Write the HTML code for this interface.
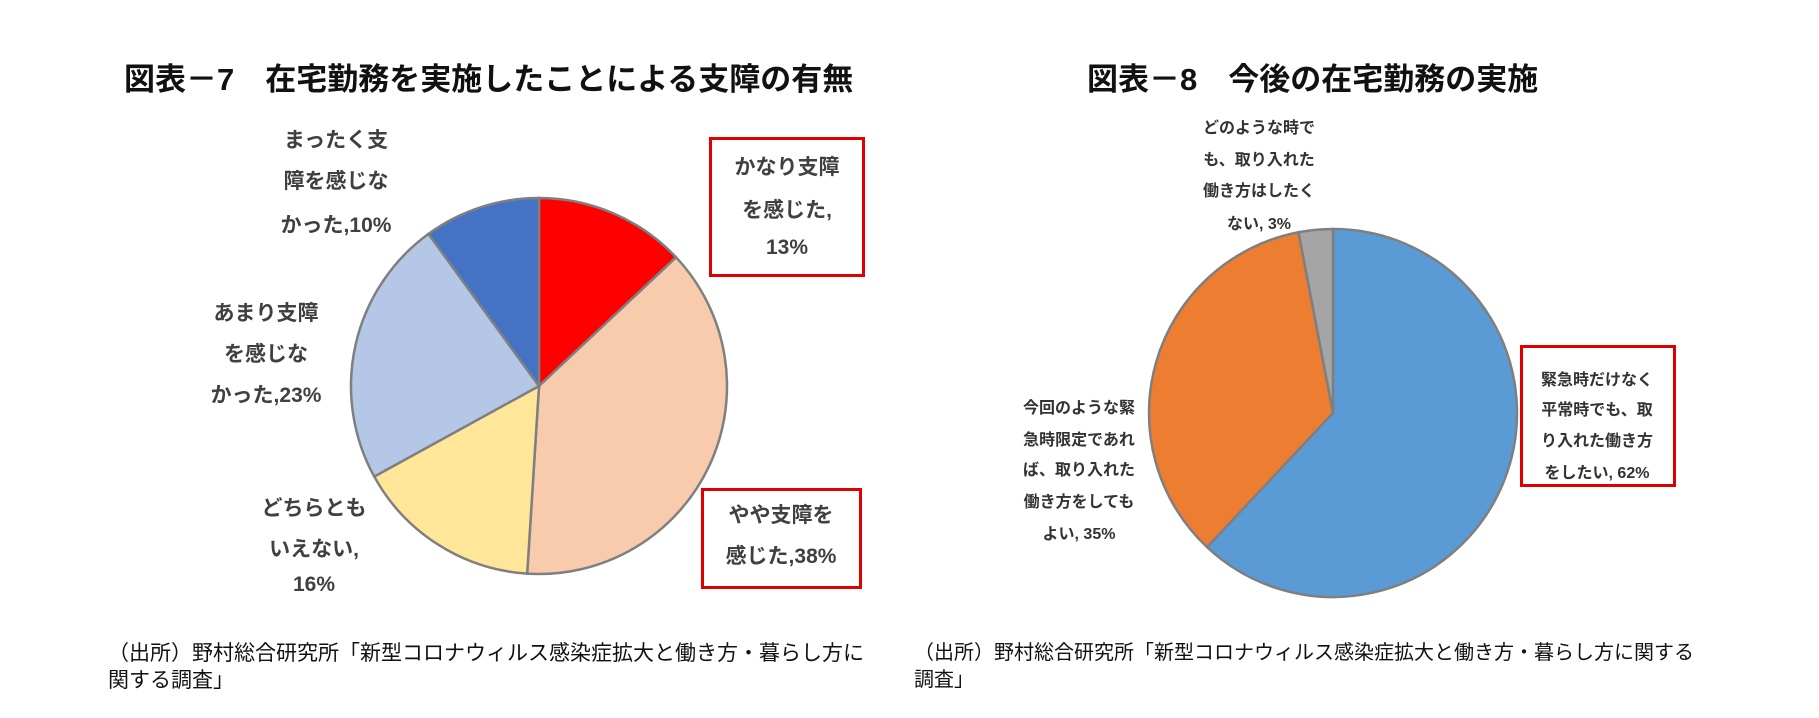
<!DOCTYPE html>
<html><head><meta charset="utf-8"><style>
body{margin:0;background:#fff;}
#wrap{position:relative;width:1819px;height:718px;overflow:hidden;font-family:"Liberation Sans","Noto Sans CJK JP",sans-serif;}
.t{position:absolute;font-weight:bold;font-size:31px;color:#111;white-space:nowrap;}
.lb{position:absolute;color:#333;white-space:nowrap;text-align:center;transform:translate(-50%,-50%);}
.l1{font-size:21px;font-weight:bold;color:#404040;} .l2{font-size:16px;font-weight:bold;}
.box{position:absolute;border:3px solid #e00000;box-sizing:border-box;}
.src{position:absolute;font-size:21px;color:#111;white-space:nowrap;line-height:27px;}
svg{position:absolute;left:0;top:0;}
</style></head><body>
<div id="wrap">
<svg id="svg" width="1819" height="718"></svg>
<div class="t" style="left:124px;top:54px;">図表－7　在宅勤務を実施したことによる支障の有無</div>
<div class="t" style="left:1087px;top:54px;">図表－8　今後の在宅勤務の実施</div>

<div class="box" style="left:709px;top:137px;width:156px;height:140px;"></div>
<div class="box" style="left:701px;top:488px;width:161px;height:101px;"></div>
<div class="box" style="left:1520px;top:345px;width:156px;height:142px;"></div>

<div class="lb l1" style="left:336px;top:139px">まったく支</div>
<div class="lb l1" style="left:336px;top:180px">障を感じな</div>
<div class="lb l1" style="left:336px;top:224px">かった,10%</div>
<div class="lb l1" style="left:787px;top:166px">かなり支障</div>
<div class="lb l1" style="left:787px;top:209px">を感じた,</div>
<div class="lb l1" style="left:787px;top:248px">13%</div>
<div class="lb l1" style="left:266px;top:312px">あまり支障</div>
<div class="lb l1" style="left:266px;top:353px">を感じな</div>
<div class="lb l1" style="left:266px;top:394px">かった,23%</div>
<div class="lb l1" style="left:314px;top:507px">どちらとも</div>
<div class="lb l1" style="left:314px;top:548px">いえない,</div>
<div class="lb l1" style="left:314px;top:585px">16%</div>
<div class="lb l1" style="left:781px;top:514px">やや支障を</div>
<div class="lb l1" style="left:781px;top:555px">感じた,38%</div>

<div class="lb l2" style="left:1259px;top:126px">どのような時で</div>
<div class="lb l2" style="left:1259px;top:158px">も、取り入れた</div>
<div class="lb l2" style="left:1259px;top:189px">働き方はしたく</div>
<div class="lb l2" style="left:1259px;top:222px">ない, 3%</div>
<div class="lb l2" style="left:1079px;top:406px">今回のような緊</div>
<div class="lb l2" style="left:1079px;top:438px">急時限定であれ</div>
<div class="lb l2" style="left:1079px;top:468px">ば、取り入れた</div>
<div class="lb l2" style="left:1079px;top:500px">働き方をしても</div>
<div class="lb l2" style="left:1079px;top:532px">よい, 35%</div>
<div class="lb l2" style="left:1597px;top:378px">緊急時だけなく</div>
<div class="lb l2" style="left:1597px;top:408px">平常時でも、取</div>
<div class="lb l2" style="left:1597px;top:439px">り入れた働き方</div>
<div class="lb l2" style="left:1597px;top:471px">をしたい, 62%</div>

<div class="src" style="left:108px;top:640px;">（出所）野村総合研究所「新型コロナウィルス感染症拡大と働き方・暮らし方に<br>関する調査」</div>
<div class="src" style="left:914px;top:640px;font-size:20px;">（出所）野村総合研究所「新型コロナウィルス感染症拡大と働き方・暮らし方に関する<br>調査」</div>
</div>
<script>
const leftCategories=['かなり支障を感じた','やや支障を感じた','どちらともいえない','あまり支障を感じなかった','まったく支障を感じなかった'];
const leftValues=[13,38,16,23,10];
const leftColors=['#FF0000','#F8CBAD','#FFE699','#B4C7E7','#4472C4'];
const rightCategories=['平常時でも取り入れたい','緊急時限定であればよい','したくない'];
const rightValues=[62,35,3];
const rightColors=['#5B9BD5','#ED7D31','#A5A5A5'];
const svg=document.getElementById('svg');
const NS='http://www.w3.org/2000/svg';
function drawPie(vals,cols,cx,cy,r,name){
  const total=vals.reduce((a,b)=>a+b,0);
  let a0=-Math.PI/2;
  vals.forEach((v,i)=>{
    const a1=a0+v/total*2*Math.PI;
    const x0=cx+r*Math.cos(a0),y0=cy+r*Math.sin(a0),x1=cx+r*Math.cos(a1),y1=cy+r*Math.sin(a1);
    const large=(a1-a0)>Math.PI?1:0;
    const p=document.createElementNS(NS,'path');
    p.setAttribute('d',`M${cx},${cy} L${x0},${y0} A${r},${r} 0 ${large} 1 ${x1},${y1} Z`);
    p.setAttribute('fill',cols[i]);
    p.setAttribute('stroke','#7F7F7F');
    p.setAttribute('stroke-width','2.5');
    
    
    svg.appendChild(p);
    a0=a1;
  });
}
drawPie(leftValues,leftColors,539,386,188,'left-pie');
drawPie(rightValues,rightColors,1333,413,184,'right-pie');
</script>
</body></html>
